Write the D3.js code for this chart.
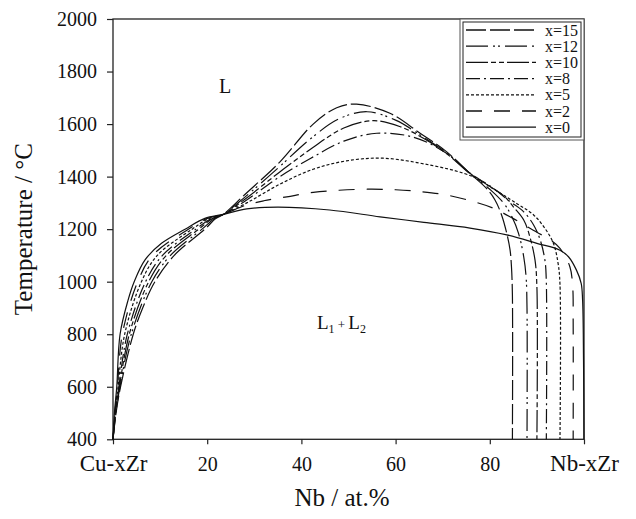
<!DOCTYPE html>
<html>
<head>
<meta charset="utf-8">
<script src="https://cdn.jsdelivr.net/npm/d3@7"></script>
<style>
  body { margin: 0; background: #fff; }
  svg, svg text { font-family: "Liberation Serif", "Times New Roman", serif; }
</style>
</head>
<body>
<div id="chart"></div>
<script>
// axis ticks
const xTicks = [0, 20, 40, 60, 80, 100];
const xTickLabels = ["Cu-xZr", "20", "40", "60", "80", "Nb-xZr"];
const yTicks = [400, 600, 800, 1000, 1200, 1400, 1600, 1800, 2000];

// series, [Nb at.%, T °C]
const seriesLabels = ["x=15", "x=12", "x=10", "x=8", "x=5", "x=2", "x=0"];

const curveX15 = [[0,400],[0.65,500],[1.6,600],[4.3,800],[6.3,900],[8.9,1000],[13,1100],[19.5,1200],[21.8,1240],[23.4,1256],
  [28,1332],[35.5,1457],[42.5,1600],[47.5,1662],[51.7,1676],[58.8,1641],[65.2,1565],[70.8,1495],[75.8,1412],[79.3,1355],
  [81.1,1311],[82.5,1254],[83.6,1184],[84.3,1121],[84.6,1057],[84.8,950],[84.8,400]];
const curveX12 = [[0,400],[0.6,500],[1.48,600],[3.88,800],[8.24,1000],[12.2,1100],[18.9,1200],[21.5,1240],[23.4,1256],
  [28,1322],[35,1432],[42,1545],[48,1620],[53.9,1647],[60,1615],[65.5,1555],[71,1488],[76,1410],[80,1352],[82.9,1300],
  [84.7,1247],[86.1,1184],[87.2,1095],[87.7,1019],[87.9,900],[87.9,400]];
const curveX10 = [[0,400],[0.55,500],[1.36,600],[3.46,800],[7.58,1000],[11.3,1100],[18.2,1200],[21.1,1240],[23.4,1256],
  [28,1314],[35,1412],[42,1505],[49,1585],[55.3,1613],[61,1590],[66,1545],[71,1485],[76,1408],[79.5,1368],[82.9,1328],
  [85,1285],[87.2,1235],[88.5,1171],[89.6,1082],[90,980],[90,400]];
const curveX8 = [[0,400],[0.5,500],[1.24,600],[3.04,800],[6.92,1000],[10.5,1100],[17.6,1200],[20.8,1240],[23.4,1256],
  [28,1306],[35,1395],[42,1470],[49,1535],[56,1565],[63.8,1550],[70.8,1489],[76,1410],[80,1365],[84.3,1305],[87.2,1266],
  [89.3,1216],[90.7,1159],[91.7,1082],[92,1000],[92,400]];
const curveX5 = [[0,400],[0.45,500],[1.08,600],[2.48,800],[6.04,1000],[9.4,1100],[16.8,1200],[20.3,1240],[23.4,1256],
  [28.4,1300],[35.5,1372],[42.5,1428],[49.6,1460],[57.4,1470],[67.3,1444],[74.4,1413],[77.9,1387],[80,1362],[85.7,1298],
  [89.3,1254],[91.7,1203],[93.5,1146],[94.5,1070],[94.9,990],[94.9,400]];
const curveX2 = [[0,400],[0.4,500],[0.94,600],[1.98,800],[5.25,1000],[8.4,1100],[16,1200],[19.9,1240],[23.4,1256],
  [28,1290],[32,1308],[36.9,1323],[42.5,1340],[48,1348],[54,1352],[60,1350],[65.2,1343],[70.8,1330],[76.5,1305],
  [80.7,1280],[85,1240],[90,1188],[92.8,1160],[94.9,1127],[97,1057],[97.6,980],[97.7,850],[97.7,400]];
const curveX0 = [[0,400],[0.3,500],[0.8,600],[1.5,800],[3.2,930],[4.5,1000],[6.8,1083],[10.3,1146],[15.3,1200],[19.5,1241],
  [23.4,1256],[28.4,1277],[35,1284],[46,1273],[56.7,1247],[66,1226],[75.8,1204],[83.6,1178],[90,1146],[94.9,1120],
  [96.7,1095],[98.4,1044],[99.4,994],[99.7,930],[99.9,700],[100,400]];

const curves = [curveX15, curveX12, curveX10, curveX8, curveX5, curveX2, curveX0];
const dashes = ["20,4", "22,5,2,3,2,5", "22,3,5,3,5,3", "14,4,2,4", "3,2", "16,12", null];

const width = 636, height = 519;
const margin = { top: 19, right: 52, bottom: 80, left: 113 };
const serif = '"Liberation Serif", "Times New Roman", serif';

const svg = d3.select("#chart")
  .append("svg")
  .attr("width", width)
  .attr("height", height);

const x = d3.scaleLinear()
  .domain([0, 100])
  .range([margin.left, width - margin.right]);

const y = d3.scaleLinear()
  .domain([400, 2000])
  .range([height - margin.bottom + 0.3, margin.top]);

// frame
svg.append("rect")
  .attr("x", x(0))
  .attr("y", y(2000))
  .attr("width", x(100) - x(0))
  .attr("height", y(400) - y(2000))
  .attr("fill", "none")
  .attr("stroke", "#222")
  .attr("stroke-width", 1.3);

const xAxis = d3.axisBottom(x)
  .tickValues(xTicks)
  .tickSize(5)
  .tickFormat((d, i) => xTickLabels[i]);

const gx = svg.append("g")
  .attr("transform", `translate(0,${y(400)})`)
  .call(xAxis)
  .attr("font-family", serif);
gx.select(".domain").remove();
gx.selectAll("line").attr("stroke", "#222").attr("stroke-width", 1.2);
gx.selectAll("text")
  .attr("y", 32)
  .attr("dy", null)
  .attr("fill", "#111")
  .attr("font-size", (d) => (d === 0 || d === 100 ? "23px" : "20px"));

const yAxis = d3.axisLeft(y)
  .tickValues(yTicks)
  .tickSize(6)
  .tickPadding(10)
  .tickFormat(d3.format("d"));

const gy = svg.append("g")
  .attr("transform", `translate(${x(0)},0)`)
  .call(yAxis)
  .attr("font-family", serif);
gy.select(".domain").remove();
gy.selectAll("line").attr("stroke", "#222").attr("stroke-width", 1.2);
gy.selectAll("text").attr("font-size", "20px").attr("fill", "#111");

// axis titles
svg.append("text")
  .attr("x", 342)
  .attr("y", 506)
  .attr("text-anchor", "middle")
  .attr("font-size", "25px")
  .attr("fill", "#111")
  .text("Nb / at.%");

svg.append("text")
  .attr("transform", "rotate(-90)")
  .attr("x", -(y(400) + y(2000)) / 2)
  .attr("y", 32)
  .attr("text-anchor", "middle")
  .attr("font-size", "25px")
  .attr("fill", "#111")
  .text("Temperature / °C");

// curves
const line = d3.line()
  .x((d) => x(d[0]))
  .y((d) => y(d[1]))
  .curve(d3.curveCatmullRom.alpha(0.5));

svg.selectAll("path.curve")
  .data(curves)
  .join("path")
  .attr("class", "curve")
  .attr("d", line)
  .attr("fill", "none")
  .attr("stroke", "#111")
  .attr("stroke-width", 1.2)
  .attr("stroke-dasharray", (d, i) => dashes[i]);

// region labels
svg.append("text")
  .attr("x", x(23.8))
  .attr("y", y(1720))
  .attr("text-anchor", "middle")
  .attr("font-size", "20px")
  .attr("fill", "#111")
  .text("L");

const l12 = svg.append("text")
  .attr("x", x(48.5))
  .attr("y", y(820))
  .attr("text-anchor", "middle")
  .attr("font-size", "19px")
  .attr("fill", "#111");
l12.append("tspan").text("L");
l12.append("tspan").attr("font-size", "12px").attr("dy", 4).text("1");
l12.append("tspan").attr("font-size", "13px").attr("dy", -4).text(" + ");
l12.append("tspan").text("L");
l12.append("tspan").attr("font-size", "12px").attr("dy", 4).text("2");

// legend
const lx = 460, ly = y(2000), lw = x(100) - lx, lh = 121;
svg.append("rect")
  .attr("x", lx).attr("y", ly).attr("width", lw).attr("height", lh)
  .attr("fill", "#fff").attr("stroke", "#555").attr("stroke-width", 1);
svg.append("rect")
  .attr("x", lx + 3).attr("y", ly + 3).attr("width", lw - 6).attr("height", lh - 6)
  .attr("fill", "none").attr("stroke", "#222").attr("stroke-width", 1);

const legend = svg.selectAll("g.leg")
  .data(seriesLabels)
  .join("g")
  .attr("class", "leg")
  .attr("transform", (d, i) => `translate(0,${30 + i * 16.2})`);

legend.append("line")
  .attr("x1", 466).attr("x2", 536)
  .attr("y1", 0).attr("y2", 0)
  .attr("stroke", "#111")
  .attr("stroke-width", 1.3)
  .attr("stroke-dasharray", (d, i) => dashes[i]);

legend.append("text")
  .attr("x", 545)
  .attr("y", 0)
  .attr("dy", "0.35em")
  .attr("font-size", "16px")
  .attr("fill", "#111")
  .text((d) => d);
</script>
</body>
</html>
